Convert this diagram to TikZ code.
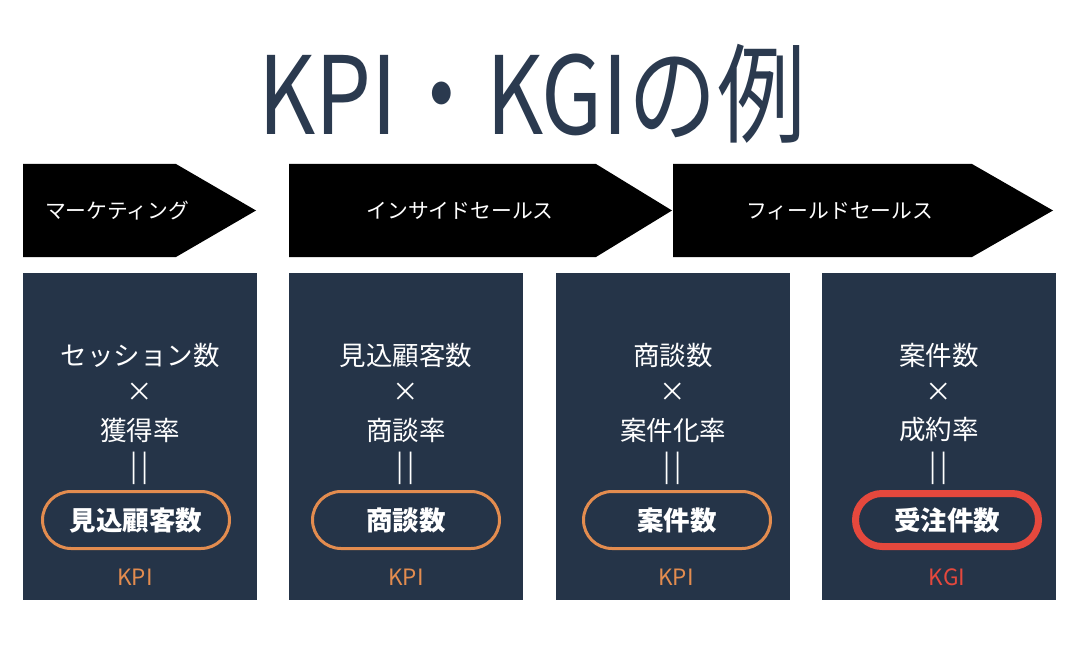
\documentclass[tikz,border=0pt]{standalone}
\usepackage{fontspec}
\setmainfont{Noto Sans CJK JP}
\definecolor{navy}{HTML}{253448}
\definecolor{titleblue}{HTML}{2B3A4F}
\definecolor{kpiorange}{HTML}{E38C4F}
\definecolor{kgired}{HTML}{E5483D}
\newcommand{\eqbars}{\scalebox{1}[1.1]{|\kern4pt|}}
\begin{document}
\begin{tikzpicture}[x=1pt,y=-1pt,
  stage/.style={fill=black,draw=none},
  card/.style={fill=navy,draw=none},
  stagetxt/.style={text=white,font=\fontsize{20.8}{24}\selectfont,inner sep=0pt},
  linetxt/.style={text=white,font=\fontsize{26.5}{30}\selectfont,inner sep=0pt},
  pill/.style={draw=kpiorange,line width=3pt,rounded corners=28.5pt,minimum width=187pt,minimum height=57pt,text=white,font=\bfseries\fontsize{26.5}{30}\selectfont,inner sep=0pt},
  kgipill/.style={pill,draw=kgired,line width=7pt,rounded corners=26.5pt,minimum width=183pt,minimum height=53pt},
  kpitxt/.style={text=kpiorange,font=\fontsize{22.5}{26}\selectfont,inner sep=0pt},
  kgitxt/.style={kpitxt,text=kgired}
]
\useasboundingbox (0,0) rectangle (1080,650);
\fill[white] (0,0) rectangle (1080,650);

% title
\node[text=titleblue,inner sep=0pt] (title) at (532,94)
  {\scalebox{0.82}[1]{\fontsize{108}{120}\selectfont KPI・KGIの例}};

% stage arrows
\fill[stage] (23,164) -- (176,164) -- (256,210.5) -- (176,257) -- (23,257) -- cycle;
\fill[stage] (289,164) -- (596,164) -- (672,210.5) -- (596,257) -- (289,257) -- cycle;
\fill[stage] (673,164) -- (972,164) -- (1053,210.5) -- (972,257) -- (673,257) -- cycle;
\node[stagetxt] (s1) at (117,211) {マーケティング};
\node[stagetxt] (s2) at (460,211) {インサイドセールス};
\node[stagetxt] (s3) at (840,211) {フィールドセールス};

% cards
\fill[card] (23,273) rectangle (257,600);
\fill[card] (289,273) rectangle (523,600);
\fill[card] (556,273) rectangle (790,600);
\fill[card] (822,273) rectangle (1056,600);

% card 1
\node[linetxt] (a1) at (140,355) {セッション数};
\node[linetxt] (a2) at (140,392) {×};
\node[linetxt] (a3) at (140,430) {獲得率};
\node[linetxt] (a4) at (140,468) {\eqbars};
\node[pill] (a5) at (136,520) {見込顧客数};
\node[kpitxt] (a6) at (135,577) {KPI};

% card 2
\node[linetxt] (b1) at (406,355) {見込顧客数};
\node[linetxt] (b2) at (406,392) {×};
\node[linetxt] (b3) at (406,430) {商談率};
\node[linetxt] (b4) at (406,468) {\eqbars};
\node[pill] (b5) at (406,520) {商談数};
\node[kpitxt] (b6) at (406,577) {KPI};

% card 3
\node[linetxt] (c1) at (673,355) {商談数};
\node[linetxt] (c2) at (673,392) {×};
\node[linetxt] (c3) at (673,430) {案件化率};
\node[linetxt] (c4) at (673,468) {\eqbars};
\node[pill] (c5) at (677,520) {案件数};
\node[kpitxt] (c6) at (676,577) {KPI};

% card 4
\node[linetxt] (d1) at (939,355) {案件数};
\node[linetxt] (d2) at (939,392) {×};
\node[linetxt] (d3) at (939,430) {成約率};
\node[linetxt] (d4) at (939,468) {\eqbars};
\node[kgipill] (d5) at (947,520) {受注件数};
\node[kgitxt] (d6) at (947,577) {KGI};
\end{tikzpicture}
\end{document}
